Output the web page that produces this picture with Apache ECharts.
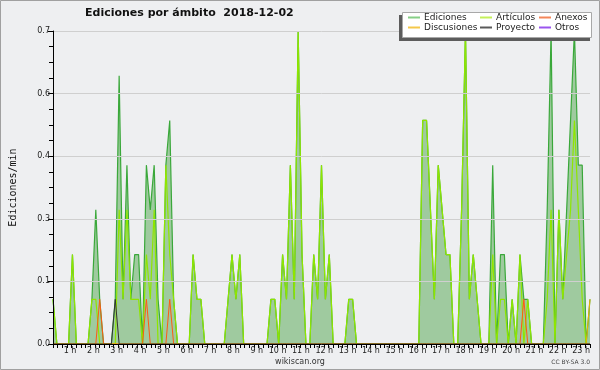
<!DOCTYPE html>
<html>
<head>
<meta charset="utf-8">
<script src="https://cdn.jsdelivr.net/npm/echarts@6/dist/echarts.min.js"></script>
<style>
html,body{margin:0;padding:0;background:#eeeff1;}
#c{width:600px;height:370px;}
</style>
</head>
<body>
<div id="c"></div>
<script>
// Edits per minute, one value per 10-minute bin, from 00:00 to 23:00
const ediciones = [
0.1,0,0,0,0,0.2,0,0,0,0,
0.1,0.3,0.1,0,0,0,0.1,0.6,0.1,0.4,
0.1,0.2,0.2,0,0.4,0.3,0.4,0.1,0,0.4,
0.5,0.1,0,0,0,0,0.2,0.1,0.1,0,
0,0,0,0,0,0.1,0.2,0.1,0.2,0,
0,0,0,0,0,0,0.1,0.1,0,0.2,
0.1,0.4,0.1,0.7,0.2,0,0,0.2,0.1,0.4,
0.1,0.2,0,0,0,0,0.1,0.1,0,0,
0,0,0,0,0,0,0,0,0,0,
0,0,0,0,0,0.5,0.5,0.3,0.1,0.4,
0.3,0.2,0.2,0,0,0.3,0.7,0.1,0.2,0.1,
0,0,0,0.4,0,0.2,0.2,0,0.1,0,
0.2,0.1,0.1,0,0,0,0,0.3,0.7,0,
0.3,0.1,0.3,0.5,0.7,0.4,0.4,0,0.1
];
const articulos = [
0.1,0,0,0,0,0.2,0,0,0,0,
0.1,0.1,0,0,0,0,0,0.3,0.1,0.3,
0.1,0.1,0.1,0,0.2,0.1,0.3,0,0,0.4,
0.2,0.1,0,0,0,0,0.2,0.1,0.1,0,
0,0,0,0,0,0.1,0.2,0.1,0.2,0,
0,0,0,0,0,0,0.1,0.1,0,0.2,
0.1,0.4,0.1,0.7,0.2,0,0,0.2,0.1,0.4,
0.1,0.2,0,0,0,0,0.1,0.1,0,0,
0,0,0,0,0,0,0,0,0,0,
0,0,0,0,0,0.5,0.5,0.3,0.1,0.4,
0.3,0.2,0.2,0,0,0.3,0.7,0.1,0.2,0.1,
0,0,0,0.2,0,0.1,0.1,0,0.1,0,
0.2,0,0.1,0,0,0,0,0.1,0.3,0,
0.3,0.1,0.2,0.3,0.5,0.3,0.1,0,0
];
const anexos = [
0,0,0,0,0,0,0,0,0,0,
0,0,0.1,0,0,0,0,0,0,0,
0,0,0,0,0.1,0,0,0,0,0,
0.1,0,0,0,0,0,0,0,0,0,
0,0,0,0,0,0,0,0,0,0,
0,0,0,0,0,0,0,0,0,0,
0,0,0,0,0,0,0,0,0,0,
0,0,0,0,0,0,0,0,0,0,
0,0,0,0,0,0,0,0,0,0,
0,0,0,0,0,0,0,0,0,0,
0,0,0,0,0,0,0,0,0,0,
0,0,0,0,0,0,0,0,0,0,
0,0.1,0,0,0,0,0,0,0,0,
0,0,0,0,0,0,0,0,0
];
const discusiones = [
0,0,0,0,0,0,0,0,0,0,
0,0,0,0,0,0,0,0,0,0,
0,0,0,0,0,0,0,0,0,0,
0,0,0,0,0,0,0,0,0,0,
0,0,0,0,0,0,0,0,0,0,
0,0,0,0,0,0,0,0,0,0,
0,0,0,0,0,0,0,0,0,0,
0,0,0,0,0,0,0,0,0,0,
0,0,0,0,0,0,0,0,0,0,
0,0,0,0,0,0,0,0,0,0,
0,0,0,0,0,0,0,0,0,0,
0,0,0,0,0,0,0,0,0,0,
0,0,0,0,0,0,0,0,0,0,
0,0,0,0,0,0,0,0,0.1
];
const proyecto = [
0,0,0,0,0,0,0,0,0,0,
0,0,0,0,0,0,0.1,0,0,0,
0,0,0,0,0,0,0,0,0,0,
0,0,0,0,0,0,0,0,0,0,
0,0,0,0,0,0,0,0,0,0,
0,0,0,0,0,0,0,0,0,0,
0,0,0,0,0,0,0,0,0,0,
0,0,0,0,0,0,0,0,0,0,
0,0,0,0,0,0,0,0,0,0,
0,0,0,0,0,0,0,0,0,0,
0,0,0,0,0,0,0,0,0,0,
0,0,0,0,0,0,0,0,0,0,
0,0,0,0,0,0,0,0,0,0,
0,0,0,0,0,0,0,0,0
];
const otros = new Array(ediciones.length).fill(0);
const binMinutes = 10;
const hourTicks = ['1 h','2 h','3 h','4 h','5 h','6 h','7 h','8 h','9 h','10 h','11 h','12 h','13 h','14 h','15 h','16 h','17 h','18 h','19 h','20 h','21 h','22 h','23 h'];

const pairs = arr => arr.map((v, i) => [i * binMinutes, v]);

const chart = echarts.init(document.getElementById('c'), null, {renderer: 'canvas'});

function mkLegend(name, left, top, color) {
  return {
    data: [{name: name, itemStyle: {color: color}}],
    left: left, top: top, padding: 0,
    icon: 'rect', itemWidth: 12, itemHeight: 2,
    selectedMode: false,
    textStyle: {fontFamily: 'DejaVu Sans', fontSize: 9, color: '#222', padding: [0,0,0,-1]},
    z: 20
  };
}
function lineSeries(name, data, color, width, z) {
  return {
    name: name, type: 'line', data: pairs(data), showSymbol: false, symbol: 'none',
    lineStyle: {color: color, width: width}, itemStyle: {color: color},
    z: z, animation: false
  };
}

chart.setOption({
  backgroundColor: '#eeeff1',
  animation: false,
  title: {
    text: 'Ediciones por ámbito  2018-12-02',
    left: 85, top: 8, padding: 0,
    textStyle: {fontFamily: 'DejaVu Sans', fontWeight: 'bold', fontSize: 11, color: '#111'}
  },
  legend: [
    mkLegend('Ediciones', 408, 13, '#86cf86'),
    mkLegend('Artículos', 480, 13, '#c4f05a'),
    mkLegend('Anexos', 539, 13, '#f4875a'),
    mkLegend('Discusiones', 408, 23, '#f5c84a'),
    mkLegend('Proyecto', 480, 23, '#5a5a5a'),
    mkLegend('Otros', 539, 23, '#9a55ee')
  ],
  graphic: [
    {type: 'rect', shape: {x: 399, y: 15, width: 191, height: 26}, style: {fill: '#5c5c5c'}, z: 10},
    {type: 'rect', shape: {x: 402.5, y: 12.5, width: 189, height: 25}, style: {fill: '#ffffff', stroke: '#a8a8a8', lineWidth: 1}, z: 11},
    {type: 'text', x: 300, y: 358, style: {text: 'wikiscan.org', fontFamily: 'DejaVu Sans', fontSize: 8, fill: '#333', align: 'center'}, z: 5},
    {type: 'text', x: 590, y: 359, style: {text: 'CC BY-SA 3.0', fontFamily: 'DejaVu Sans', fontSize: 6, fill: '#444', align: 'right'}, z: 5},
    {type: 'rect', shape: {x: 0.5, y: 0.5, width: 599, height: 369}, style: {fill: null, stroke: '#a0a0a0', lineWidth: 1}, z: 30}
  ],
  grid: {left: 46, right: 10, top: 31, bottom: 26, containLabel: false},
  xAxis: {
    type: 'value', min: 0, max: 1380, interval: 60,
    z: 5,
    axisLine: {show: true, onZero: false, lineStyle: {color: '#000', width: 1}},
    axisTick: {show: true, length: 4, lineStyle: {color: '#000'}},
    minorTick: {show: true, splitNumber: 5, length: 4, lineStyle: {color: '#000'}},
    splitLine: {show: false},
    axisLabel: {
      fontFamily: 'DejaVu Sans', fontSize: 8, color: '#222', margin: 3, align: 'right',
      formatter: v => (v === 0 ? '' : hourTicks[v / 60 - 1])
    }
  },
  yAxis: {
    type: 'value', min: 0, max: 0.7, interval: 0.14,
    z: 5,
    name: 'Ediciones/min', nameLocation: 'middle', nameGap: 35, nameRotate: 90,
    nameTextStyle: {fontFamily: 'DejaVu Sans Mono', fontSize: 10, color: '#111'},
    axisLine: {show: true, lineStyle: {color: '#000', width: 1}},
    axisTick: {show: true, length: 5, lineStyle: {color: '#000'}},
    minorTick: {show: true, splitNumber: 4, length: 4, lineStyle: {color: '#000'}},
    splitLine: {show: true, lineStyle: {color: '#cfcfcf', width: 1}},
    axisLabel: {fontFamily: 'DejaVu Sans', fontSize: 8, color: '#222', margin: 3,
      formatter: v => v.toFixed(1)}
  },
  series: [
    Object.assign(lineSeries('Ediciones', ediciones, '#3aa83a', 1.2, 2), {
      areaStyle: {color: '#9fca9f', opacity: 1},
      itemStyle: {color: '#86cf86'}
    }),
    Object.assign(lineSeries('Artículos', articulos, '#8fe600', 1.2, 3), {itemStyle: {color: '#c4f05a'}}),
    Object.assign(lineSeries('Anexos', anexos, '#ff5a10', 1, 4), {itemStyle: {color: '#f4875a'}}),
    Object.assign(lineSeries('Discusiones', discusiones, '#f0b400', 1, 4), {itemStyle: {color: '#f5c84a'}}),
    Object.assign(lineSeries('Proyecto', proyecto, '#333333', 1, 4), {itemStyle: {color: '#5a5a5a'}}),
    Object.assign(lineSeries('Otros', otros, '#9933ff', 1, 1), {itemStyle: {color: '#9a55ee'}})
  ]
});
</script>
</body>
</html>
